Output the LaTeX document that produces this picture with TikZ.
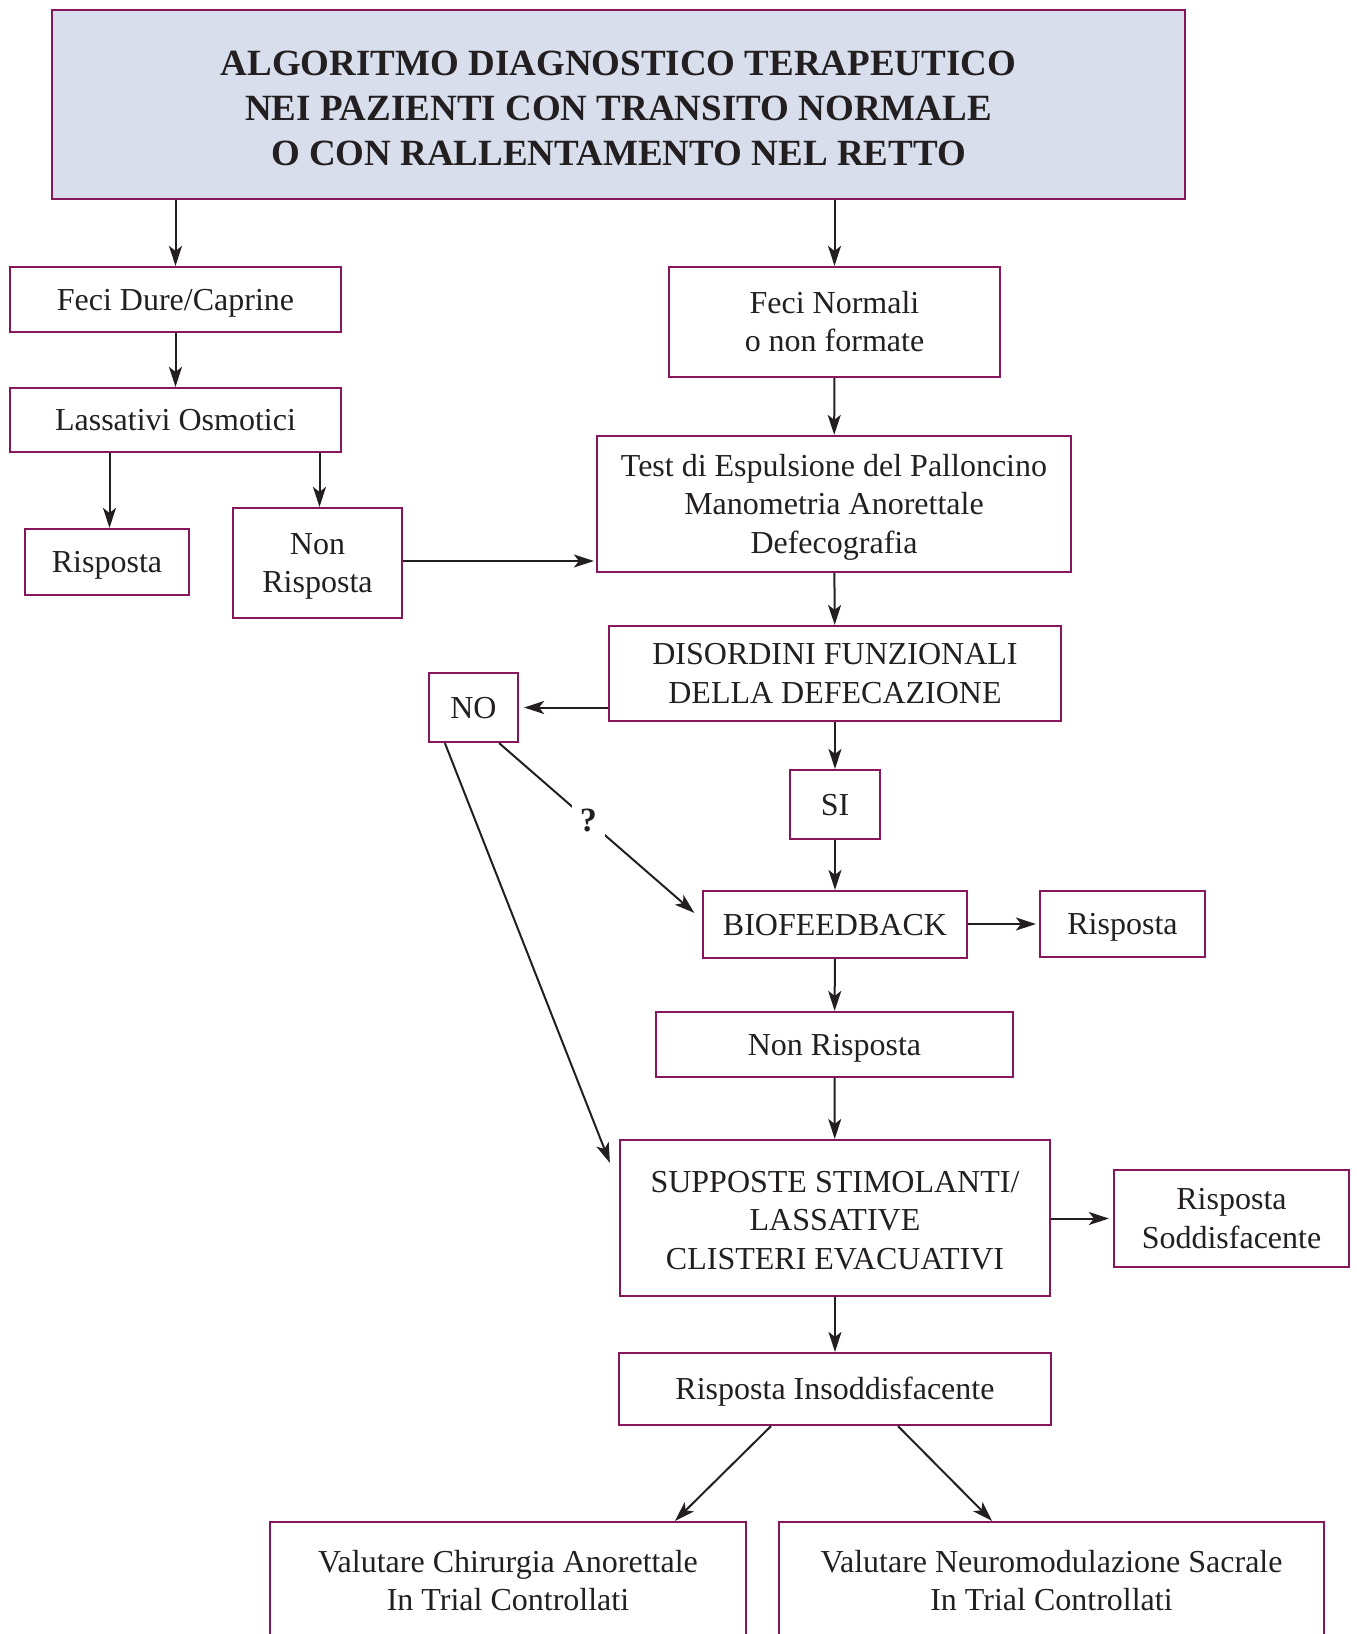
\documentclass[tikz,border=0pt]{standalone}
\usepackage{fontspec}
\setmainfont{Liberation Serif}
\usepackage{tikz}
\usetikzlibrary{arrows.meta, positioning, calc}
\definecolor{boxline}{RGB}{135,22,92}
\definecolor{titlefill}{RGB}{216,222,236}
\definecolor{ink}{RGB}{35,31,32}
\newcommand{\bs}{\rule[-8pt]{0pt}{37.2pt}}
\newcommand{\ts}{\rule[-10pt]{0pt}{52.5pt}}

\begin{document}
\begin{tikzpicture}[x=1pt, y=-1pt,
    box/.style={draw=boxline, line width=2.2pt, align=center, inner sep=0pt, text=ink,
        font=\fontsize{32}{38.5}\selectfont},
    titlebox/.style={box, fill=titlefill, font=\fontsize{37}{45}\selectfont\bfseries},
    arr/.style={-{Stealth[length=20pt, width=13pt, inset=5pt]}, line width=2pt, draw=ink}
]
\useasboundingbox (0,0) rectangle (1357,1634);

\node[titlebox, minimum width=1133pt, minimum height=189pt] (title) at (618.5,104.5)
    {\ts ALGORITMO DIAGNOSTICO TERAPEUTICO\\NEI PAZIENTI CON TRANSITO NORMALE\\O CON RALLENTAMENTO NEL RETTO\rule[-10pt]{0pt}{1pt}};

\node[box, minimum width=331pt, minimum height=65pt] (fdure) at (175.5,299.5) {\bs Feci Dure/Caprine\bs};
\node[box, minimum width=331pt, minimum height=64pt] (lassat) at (175.5,420) {\bs Lassativi Osmotici\bs};
\node[box, minimum width=164pt, minimum height=66pt] (risp1) at (107,562) {\bs Risposta\bs};
\node[box, minimum width=169pt, minimum height=110pt] (nonrisp1) at (317.5,563) {\bs Non\\Risposta\bs};

\node[box, minimum width=331pt, minimum height=110pt] (fnorm) at (834.5,322) {\bs Feci Normali\\o non formate\bs};
\node[box, minimum width=474pt, minimum height=136pt] (test) at (834,504)
    {\bs Test di Espulsione del Palloncino\\Manometria Anorettale\\Defecografia\bs};
\node[box, minimum width=452pt, minimum height=95pt] (disord) at (835,673.5)
    {\bs DISORDINI FUNZIONALI\\DELLA DEFECAZIONE\bs};
\node[box, minimum width=89pt, minimum height=69pt] (no) at (473.5,707.5) {\bs NO\bs};
\node[box, minimum width=90pt, minimum height=69pt] (si) at (835,804.5) {\bs SI\bs};
\node[box, minimum width=264pt, minimum height=67pt] (bio) at (835,924.5) {\bs BIOFEEDBACK\bs};
\node[box, minimum width=165pt, minimum height=66pt] (risp2) at (1122.5,924) {\bs Risposta\bs};
\node[box, minimum width=357pt, minimum height=65pt] (nonrisp2) at (834.5,1044.5) {\bs Non Risposta\bs};
\node[box, minimum width=430pt, minimum height=156pt] (supp) at (835,1218)
    {\rule[-8pt]{0pt}{41.2pt}SUPPOSTE STIMOLANTI/\\LASSATIVE\\CLISTERI EVACUATIVI\bs};
\node[box, minimum width=235pt, minimum height=97pt] (soddisf) at (1231.5,1218.5) {\bs Risposta\\Soddisfacente\bs};
\node[box, minimum width=432pt, minimum height=72pt] (insodd) at (835,1389) {\bs Risposta Insoddisfacente\bs};
\node[box, minimum width=476pt, minimum height=118pt] (chir) at (508,1581)
    {\bs Valutare Chirurgia Anorettale\\In Trial Controllati\bs};
\node[box, minimum width=545pt, minimum height=118pt] (neuro) at (1051.5,1581)
    {\bs Valutare Neuromodulazione Sacrale\\In Trial Controllati\bs};

\draw[arr] (title.south -| fdure.north) -- (fdure.north);
\draw[arr] (title.south -| fnorm.north) -- (fnorm.north);
\draw[arr] (fdure) -- (lassat);
\draw[arr] ($(lassat.south -| risp1.north)+(2.5,0)$) -- ($(risp1.north)+(2.5,0)$);
\draw[arr] ($(lassat.south -| nonrisp1.north)+(2,0)$) -- ($(nonrisp1.north)+(2,0)$);
\draw[arr, shorten >=2pt] ($(nonrisp1.east)+(0,-2)$) -- ($(nonrisp1.east -| test.west)+(0,-2)$);
\draw[arr] (fnorm) -- (test);
\draw[arr] (test) -- (disord);
\draw[arr, shorten >=5pt] (disord.west |- no.east) -- (no.east);
\draw[arr] (disord) -- (si);
\draw[arr] (si) -- (bio);
\draw[arr, shorten >=3pt] (bio.east |- risp2.west) -- (risp2.west);
\draw[arr] (bio) -- (nonrisp2);
\draw[arr] (nonrisp2) -- (supp);
\draw[arr, shorten >=4pt] (supp.east |- soddisf.west) -- (soddisf.west);
\draw[arr] (supp) -- (insodd);
\draw[arr, shorten >=10pt] ($(no.south east)+(-20,0)$) --
    node[pos=0.44, fill=white, inner sep=8pt, text=ink, font=\fontsize{34}{38}\selectfont\bfseries] (qmark) {?}
    ($(bio.west)+(0,-5)$);
\draw[arr] ($(no.south west)+(17,0)$) -- ($(supp.north west)+(-9,24)$);
\draw[arr] ($(insodd.south)+(-64,0)$) -- ($(chir.north)+(167,0)$);
\draw[arr] ($(insodd.south)+(63,0)$) -- ($(neuro.north)+(-59.5,0)$);
\end{tikzpicture}
\end{document}
